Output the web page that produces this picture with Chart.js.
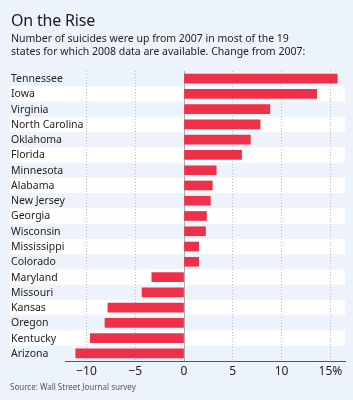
<!DOCTYPE html>
<html>
<head>
<meta charset="utf-8">
<script src="https://cdn.jsdelivr.net/npm/chart.js@4"></script>
<style>
  body { margin: 0; background: #edf3fb; font-family: "Noto Sans", sans-serif; color: #222; }
  #wrap { position: relative; width: 353px; height: 400px; overflow: hidden; }
  #title { position: absolute; left: 11px; top: 9px; font-size: 16px; color: #1a1a1a; letter-spacing: -0.2px; }
  #subtitle { position: absolute; left: 11px; top: 32px; font-size: 10.5px; line-height: 13px; color: #222; }
  #source { position: absolute; left: 10px; top: 381px; font-size: 8px; color: #555; }
  canvas { position: absolute; left: 0; top: 0; }
</style>
</head>
<body>
<div id="wrap">
  <canvas id="chart" width="353" height="400"></canvas>
  <div id="title">On the Rise</div>
  <div id="subtitle">Number of suicides were up from 2007 in most of the 19<br>states for which 2008 data are available. Change from 2007:</div>
  <div id="source">Source: Wall Street Journal survey</div>
</div>
<script>
// estados y cambio en % frente a 2007
const states = ['Tennessee', 'Iowa', 'Virginia', 'North Carolina', 'Oklahoma', 'Florida',
    'Minnesota', 'Alabama', 'New Jersey', 'Georgia', 'Wisconsin', 'Mississippi', 'Colorado',
    'Maryland', 'Missouri', 'Kansas', 'Oregon', 'Kentucky', 'Arizona'];
const change = [15.7, 13.6, 8.8, 7.8, 6.8, 5.9, 3.3, 2.9, 2.7, 2.3, 2.2, 1.5, 1.5,
    -3.3, -4.3, -7.8, -8.1, -9.6, -11.1];
const tickValues = [-10, -5, 0, 5, 10, 15];
const tickLabels = ['\u221210', '\u22125', '0', '5', '10', '15%'];

// franjas blancas alternas detras de las filas
const rowBands = {
    id: 'rowBands',
    beforeDraw(chart) {
        const ctx = chart.ctx;
        const y = chart.scales.y;
        const step = y.getPixelForValue(1) - y.getPixelForValue(0);
        ctx.save();
        ctx.fillStyle = '#ffffff';
        for (let i = 1; i < states.length; i += 2) {
            const cy = y.getPixelForValue(i);
            ctx.fillRect(10, cy - step / 2, 335, step);
        }
        ctx.restore();
    },
    // nombres de estados alineados a la izquierda (sin recorte del eje)
    afterDraw(chart) {
        const ctx = chart.ctx;
        const y = chart.scales.y;
        ctx.save();
        ctx.fillStyle = '#222';
        ctx.font = '10.5px "Noto Sans"';
        ctx.textAlign = 'left';
        ctx.textBaseline = 'middle';
        states.forEach((s, i) => {
            ctx.fillText(s, 11, y.getPixelForValue(i) + 0.5);
        });
        ctx.restore();
    }
};

const ctx = document.getElementById('chart').getContext('2d');
const chart = new Chart(ctx, {
    type: 'bar',
    data: {
        labels: states,
        datasets: [{
            data: change,
            backgroundColor: '#ee3148',
            borderWidth: 0,
            barThickness: 9
        }]
    },
    options: {
        indexAxis: 'y',
        responsive: false,
        animation: false,
        layout: { padding: { top: 71, left: 10, right: 8, bottom: 19 } },
        plugins: { legend: { display: false }, tooltip: { enabled: false } },
        scales: {
            x: {
                min: -12.2,
                max: 16.5,
                afterBuildTicks: s => { s.ticks = tickValues.map(v => ({ value: v })); },
                afterFit: s => { s.height = 20; },
                grid: {
                    drawTicks: false,
                    color: c => c.tick && c.tick.value === 0 ? '#a8adb3' : '#b9bec4',
                    lineWidth: 1
                },
                border: {
                    display: true,
                    color: '#555',
                    dash: c => c.tick && c.tick.value === 0 ? [] : [1, 2]
                },
                ticks: {
                    padding: 3,
                    color: '#222',
                    font: { family: 'Noto Sans', size: 12 },
                    callback: (v) => tickLabels[tickValues.indexOf(v)]
                }
            },
            y: {
                afterFit: s => { s.width = 55; },
                grid: { display: false },
                border: { display: false },
                ticks: { display: false }
            }
        }
    },
    plugins: [rowBands]
});
</script>
</body>
</html>
